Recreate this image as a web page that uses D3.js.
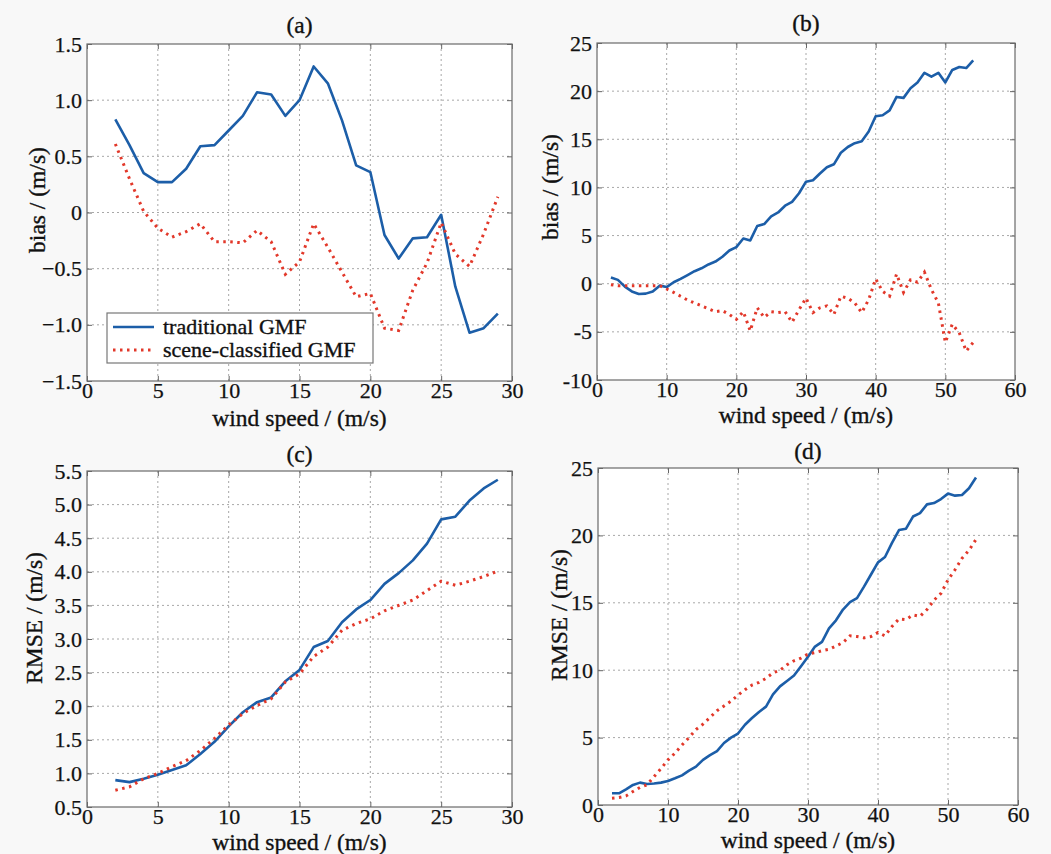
<!DOCTYPE html>
<html>
<head>
<meta charset="utf-8">
<script src="https://cdn.jsdelivr.net/npm/d3@7/dist/d3.min.js"></script>
<style>
  html, body { margin: 0; padding: 0; background: #f8f8f8; }
  svg { display: block; }
  text { font-family: "Liberation Serif", "Times New Roman", serif; fill: #111; }
</style>
</head>
<body>
<svg id="chart" width="1051" height="854"></svg>
<script>
// Wind speed bins (m/s)
const speedsLow = [2,3,4,5,6,7,8,9,10,11,12,13,14,15,16,17,18,19,20,21,22,23,24,25,26,27,28,29];
const speedsHigh = [2,3,4,5,6,7,8,9,10,11,12,13,14,15,16,17,18,19,20,21,22,23,24,25,26,27,28,29,30,
  31,32,33,34,35,36,37,38,39,40,41,42,43,44,45,46,47,48,49,50,51,52,53,54];

// (a) bias, low wind speeds
const biasLowTraditional = [0.83,0.60,0.35,0.27,0.27,0.39,0.59,0.60,0.73,0.86,1.07,1.05,0.86,1.00,1.30,1.15,0.82,0.42,
  0.36,-0.20,-0.41,-0.23,-0.22,-0.02,-0.66,-1.07,-1.03,-0.90];
const biasLowScene = [0.61,0.30,0.01,-0.14,-0.22,-0.17,-0.10,-0.26,-0.26,-0.27,-0.16,-0.26,-0.55,-0.44,-0.10,-0.31,
  -0.53,-0.75,-0.72,-1.03,-1.05,-0.69,-0.45,-0.09,-0.37,-0.48,-0.19,0.14];

// (b) bias, full wind speed range
const biasHighTraditional = [0.65,0.4,-0.3,-0.8,-1.07,-1.03,-0.8,-0.2,-0.35,0.15,0.5,0.9,1.3,1.6,2.0,2.3,2.8,3.45,3.8,
  4.7,4.5,6.0,6.2,7.0,7.4,8.1,8.5,9.4,10.6,10.75,11.45,12.1,12.4,13.6,14.2,14.6,14.8,15.8,17.4,17.5,18.0,19.4,19.3,
  20.3,20.9,21.9,21.5,21.9,20.9,22.2,22.5,22.4,23.2];
const biasHighScene = [-0.1,-0.2,-0.2,-0.2,-0.2,-0.2,-0.2,-0.2,-0.55,-0.9,-1.3,-1.7,-2.0,-2.3,-2.6,-2.9,-2.8,-3.2,-3.7,
  -2.9,-4.9,-2.5,-3.5,-2.9,-3.0,-2.9,-4.0,-2.7,-1.5,-3.0,-2.5,-2.3,-3.2,-1.3,-1.5,-2.0,-3.0,-1.65,0.5,-0.8,-1.3,1.0,
  -0.9,0.4,0.15,1.2,-0.6,-2.0,-6.1,-4.2,-5.1,-7.0,-6.1];

// (c) RMSE, low wind speeds
const rmseLowTraditional = [0.90,0.87,0.92,0.98,1.05,1.12,1.29,1.47,1.70,1.91,2.06,2.13,2.37,2.54,2.88,2.97,3.25,3.44,
  3.58,3.82,3.98,4.17,4.42,4.78,4.82,5.06,5.24,5.37];
const rmseLowScene = [0.75,0.80,0.92,1.00,1.10,1.19,1.34,1.52,1.72,1.89,2.01,2.11,2.36,2.48,2.74,2.88,3.13,3.23,3.30,
  3.42,3.50,3.58,3.72,3.86,3.80,3.86,3.93,4.01];

// (d) RMSE, full wind speed range
const rmseHighTraditional = [0.87,0.87,1.16,1.49,1.66,1.56,1.6,1.66,1.78,1.98,2.2,2.55,2.85,3.35,3.7,4.0,4.6,5.0,5.3,
  5.95,6.45,6.9,7.3,8.2,8.8,9.2,9.6,10.3,11.0,11.75,12.1,13.1,13.7,14.5,15.05,15.35,16.2,17.1,18.0,18.4,19.45,20.4,
  20.5,21.4,21.65,22.3,22.4,22.7,23.1,22.95,23.0,23.5,24.3];
const rmseHighScene = [0.5,0.55,0.67,1.0,1.3,1.5,2.1,2.7,3.35,3.85,4.45,5.0,5.6,6.0,6.5,7.0,7.35,7.7,8.15,8.55,8.9,
  9.1,9.4,9.8,10.0,10.4,10.7,10.9,11.2,11.3,11.45,11.55,11.8,12.05,12.55,12.5,12.4,12.5,12.8,12.55,13.25,13.8,13.75,
  14.1,14.0,14.5,15.2,15.7,16.7,17.45,18.3,18.9,19.7];

const seriesNames = ["traditional GMF", "scene-classified GMF"];
const xLabel = "wind speed / (m/s)";

// Tick values per axis
const ticksX30 = [0,5,10,15,20,25,30];
const ticksX60 = [0,10,20,30,40,50,60];
const ticksBiasLow = [-1.5,-1.0,-0.5,0,0.5,1.0,1.5];
const ticksBiasHigh = [-10,-5,0,5,10,15,20,25];
const ticksRmseLow = [0.5,1.0,1.5,2.0,2.5,3.0,3.5,4.0,4.5,5.0,5.5];
const ticksRmseHigh = [0,5,10,15,20,25];

const BLUE = "#1c5ea8";
const RED = "#e2382a";
const SERIF = '"Liberation Serif", "Times New Roman", serif';

const fmtOne = d => d === 0 ? "0" : d3.format(".1f")(d);
const fmtInt = d => String(d);

const panels = [
  { title: "(a)", ylabel: "bias / (m/s)", box: [87, 512, 44, 381], xs: speedsLow,
    xd: [0, 30], xt: ticksX30, yd: [-1.5, 1.5], yt: ticksBiasLow, yf: fmtOne,
    a: biasLowTraditional, b: biasLowScene,
    titleY: 33, xlabY: 426, ylab: [45, 200], legend: true },
  { title: "(b)", ylabel: "bias / (m/s)", box: [597, 1015, 43, 380], xs: speedsHigh,
    xd: [0, 60], xt: ticksX60, yd: [-10, 25], yt: ticksBiasHigh, yf: fmtInt,
    a: biasHighTraditional, b: biasHighScene,
    titleY: 31, xlabY: 423, ylab: [558, 187] },
  { title: "(c)", ylabel: "RMSE / (m/s)", box: [87, 512, 471, 807], xs: speedsLow,
    xd: [0, 30], xt: ticksX30, yd: [0.5, 5.5], yt: ticksRmseLow, yf: fmtOne,
    a: rmseLowTraditional, b: rmseLowScene,
    titleY: 462, xlabY: 850, ylab: [42, 618] },
  { title: "(d)", ylabel: "RMSE / (m/s)", box: [598, 1018, 468, 805], xs: speedsHigh,
    xd: [0, 60], xt: ticksX60, yd: [0, 25], yt: ticksRmseHigh, yf: fmtInt,
    a: rmseHighTraditional, b: rmseHighScene,
    titleY: 459, xlabY: 848, ylab: [567, 615] }
];

const svg = d3.select("#chart");
const FS = 22;     // tick and legend text
const LFS = 23.5;  // titles and axis labels

panels.forEach(p => {
  const [x0, x1, y0, y1] = p.box;
  const x = d3.scaleLinear().domain(p.xd).range([x0, x1]);
  const y = d3.scaleLinear().domain(p.yd).range([y1, y0]);
  const g = svg.append("g");

  // plot area
  g.append("rect").attr("x", x0).attr("y", y0).attr("width", x1 - x0).attr("height", y1 - y0)
    .attr("fill", "#fff");

  // dotted grid
  g.append("g").selectAll("line").data(p.xt.slice(1, -1)).join("line")
    .attr("x1", d => x(d)).attr("x2", d => x(d)).attr("y1", y0).attr("y2", y1)
    .attr("stroke", "#a8a8a8").attr("stroke-width", 1).attr("stroke-dasharray", "2,3");
  g.append("g").selectAll("line").data(p.yt.slice(1, -1)).join("line")
    .attr("x1", x0).attr("x2", x1).attr("y1", d => y(d)).attr("y2", d => y(d))
    .attr("stroke", "#a8a8a8").attr("stroke-width", 1).attr("stroke-dasharray", "2,3");

  // axes with inward ticks
  const xAxis = g.append("g").attr("transform", `translate(0,${y1})`)
    .call(d3.axisBottom(x).tickValues(p.xt).tickSize(-5).tickPadding(0).tickFormat(fmtInt));
  const yAxis = g.append("g").attr("transform", `translate(${x0},0)`)
    .call(d3.axisLeft(y).tickValues(p.yt).tickSize(-5).tickPadding(5).tickFormat(p.yf));
  [xAxis, yAxis].forEach(ax => {
    ax.attr("font-family", SERIF).attr("font-size", FS);
    ax.select(".domain").remove();
    ax.selectAll(".tick line").attr("stroke", "#666");
    ax.selectAll("text").attr("fill", "#111").attr("stroke", "#111").attr("stroke-width", 0.25);
  });
  xAxis.selectAll("text").attr("dy", "0.75em");
  g.append("g").attr("transform", `translate(0,${y0})`)
    .call(d3.axisTop(x).tickValues(p.xt).tickSize(-5).tickFormat(""))
    .call(s => { s.select(".domain").remove(); s.selectAll("line").attr("stroke", "#666"); });
  g.append("g").attr("transform", `translate(${x1},0)`)
    .call(d3.axisRight(y).tickValues(p.yt).tickSize(-5).tickFormat(""))
    .call(s => { s.select(".domain").remove(); s.selectAll("line").attr("stroke", "#666"); });

  // frame
  g.append("rect").attr("x", x0).attr("y", y0).attr("width", x1 - x0).attr("height", y1 - y0)
    .attr("fill", "none").attr("stroke", "#6a6a6a").attr("stroke-width", 1.2);

  const line = d3.line().x((d, i) => x(p.xs[i])).y(d => y(d));
  g.append("path").datum(p.a).attr("d", line).attr("fill", "none")
    .attr("stroke", BLUE).attr("stroke-width", 2.6).attr("stroke-linejoin", "round");
  g.append("path").datum(p.b).attr("d", line).attr("fill", "none")
    .attr("stroke", RED).attr("stroke-width", 3).attr("stroke-dasharray", "2.5,4.5")
    .attr("stroke-linecap", "butt");

  // title and axis labels
  const lab = sel => sel.attr("font-family", SERIF).attr("font-size", LFS)
    .attr("stroke", "#111").attr("stroke-width", 0.35);
  g.append("text").attr("x", (x0 + x1) / 2).attr("y", p.titleY).attr("text-anchor", "middle")
    .call(lab).text(p.title);
  g.append("text").attr("x", (x0 + x1) / 2).attr("y", p.xlabY).attr("text-anchor", "middle")
    .call(lab).text(xLabel);
  g.append("text").attr("transform", `translate(${p.ylab[0]},${p.ylab[1]}) rotate(-90)`)
    .attr("text-anchor", "middle").call(lab).text(p.ylabel);

  if (p.legend) {
    const lg = g.append("g");
    lg.append("rect").attr("x", 107).attr("y", 313).attr("width", 266).attr("height", 50)
      .attr("fill", "#fff").attr("stroke", "#777").attr("stroke-width", 1.2);
    const items = [{ c: BLUE, dash: null, w: 2.6 }, { c: RED, dash: "2.5,4.5", w: 3 }];
    items.forEach((it, i) => {
      const yy = 327 + i * 23;
      lg.append("line").attr("x1", 113).attr("x2", 154).attr("y1", yy).attr("y2", yy)
        .attr("stroke", it.c).attr("stroke-width", it.w).attr("stroke-dasharray", it.dash);
      lg.append("text").attr("x", 163).attr("y", yy).attr("dy", "0.33em")
        .attr("font-family", SERIF).attr("font-size", FS)
        .attr("stroke", "#111").attr("stroke-width", 0.35).text(seriesNames[i]);
    });
  }
});
</script>
</body>
</html>
